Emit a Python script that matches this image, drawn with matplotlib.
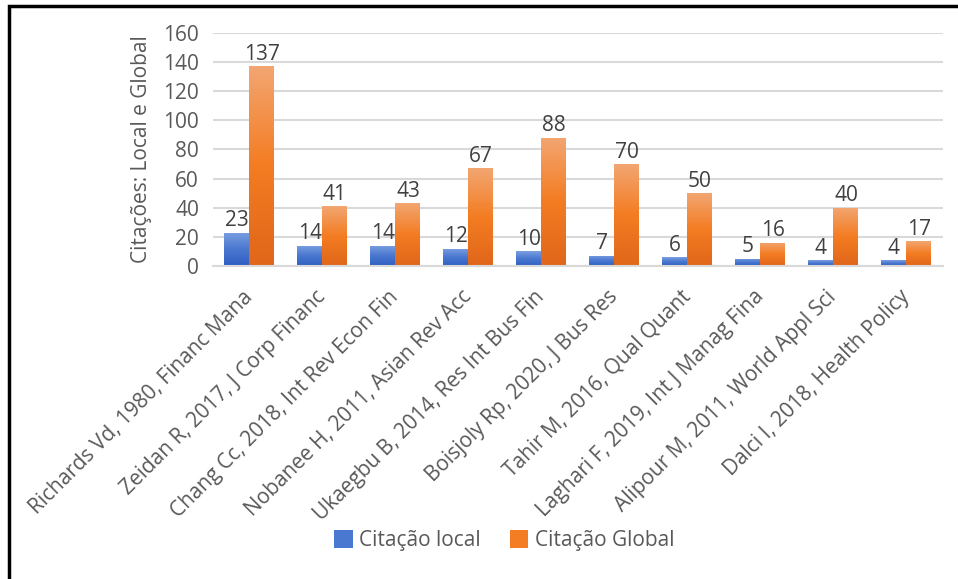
import numpy as np
import matplotlib
matplotlib.use("Agg")
import matplotlib.pyplot as plt
from matplotlib.colors import LinearSegmentedColormap
from matplotlib.patches import Rectangle, Patch

plt.rcParams['font.family'] = ['Open Sans', 'DejaVu Sans']

# top 10 documents: local vs global citations
documents = [
    "Richards Vd, 1980, Financ Mana",
    "Zeidan R, 2017, J Corp Financ",
    "Chang Cc, 2018, Int Rev Econ Fin",
    "Nobanee H, 2011, Asian Rev Acc",
    "Ukaegbu B, 2014, Res Int Bus Fin",
    "Boisjoly Rp, 2020, J Bus Res",
    "Tahir M, 2016, Qual Quant",
    "Laghari F, 2019, Int J Manag Fina",
    "Alipour M, 2011, World Appl Sci",
    "Dalci I, 2018, Health Policy",
]
local_cites = [23, 14, 14, 12, 10, 7, 6, 5, 4, 4]
global_cites = [137, 41, 43, 67, 88, 70, 50, 16, 40, 17]

TEXT = "#595959"
GRID = "#d9d9d9"

blue_cmap = LinearSegmentedColormap.from_list(
    "blue_grad", ["#7b9fe0", "#4a78d0", "#2f5ec2"])
orange_cmap = LinearSegmentedColormap.from_list(
    "orange_grad", ["#f2a672", "#f47c22", "#e0661a"])


def gradient_fill(ax, bars, cmap):
    # paint each bar with a vertical gradient (light top, dark bottom)
    grad = np.linspace(0, 1, 256).reshape(-1, 1)
    for b in bars:
        x0, y0 = b.get_x(), b.get_y()
        w, h = b.get_width(), b.get_height()
        im = ax.imshow(grad, cmap=cmap, aspect='auto',
                       extent=[x0, x0 + w, y0, y0 + h],
                       origin='upper', zorder=2)
        im.set_clip_path(b)


fig = plt.figure(figsize=(9.58, 5.79), dpi=100)
ax = fig.add_axes([0.2223, 0.5406, 0.762, 0.4024])

x = np.arange(len(documents))
w = 0.342
bars_local = ax.bar(x - w / 2, local_cites, w, facecolor='none',
                    edgecolor='none', zorder=2)
bars_global = ax.bar(x + w / 2, global_cites, w, facecolor='none',
                     edgecolor='none', zorder=2)
gradient_fill(ax, bars_local, blue_cmap)
gradient_fill(ax, bars_global, orange_cmap)

ax.bar_label(bars_local, padding=1, fontsize=15, color="#404040")
ax.bar_label(bars_global, padding=1, fontsize=15, color="#404040")

ax.set_xlim(-0.5, len(documents) - 0.5)
ax.set_ylim(0, 160)
ax.set_yticks(range(0, 161, 20))
ax.yaxis.grid(True, color=GRID, linewidth=1.5)
ax.set_axisbelow(True)
for side in ['top', 'right', 'left']:
    ax.spines[side].set_visible(False)
ax.spines['bottom'].set_color(GRID)
ax.spines['bottom'].set_linewidth(1.5)

ax.tick_params(axis='y', length=0, pad=10, labelsize=15, labelcolor=TEXT)
ax.tick_params(axis='x', length=0, pad=20, labelsize=15, labelcolor=TEXT)
ax.set_xticks(x)
ax.set_xticklabels(documents, rotation=45, ha='right',
                   rotation_mode='anchor', va='center')

ax.set_ylabel("Citações: Local e Global", fontsize=15, color=TEXT,
              labelpad=8)

handles = [Patch(facecolor="#4a78d0"), Patch(facecolor="#f47c22")]
fig.legend(handles, ["Citação local", "Citação Global"],
           loc='center', bbox_to_anchor=(0.526, 0.066), ncol=2,
           frameon=False, fontsize=15, labelcolor=TEXT,
           handlelength=0.9, handleheight=0.9, handletextpad=0.3,
           columnspacing=1.4)

# black frame around the chart (top and left edges visible)
fig.patches.append(Rectangle((0.0094, -0.1), 1.2, 1.1 - 0.0104,
                             transform=fig.transFigure, fill=False,
                             edgecolor='black', linewidth=2.5))

fig.savefig("out.png", dpi=100, facecolor='white')
